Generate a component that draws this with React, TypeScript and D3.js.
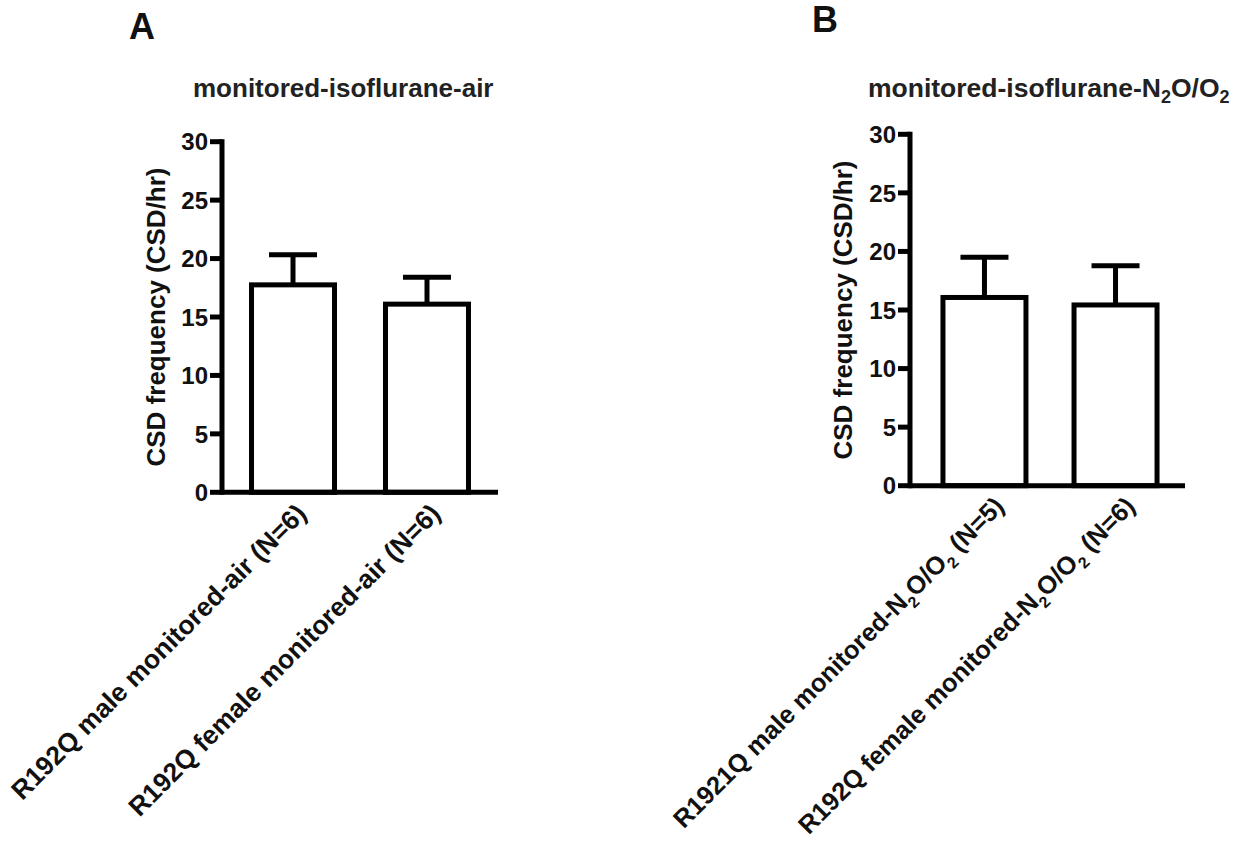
import React from "react";
import * as d3 from "d3";

// ---- data ----
const yTicks = [0, 5, 10, 15, 20, 25, 30];
const yDomain = [0, 30];

const titleA = "monitored-isoflurane-air";
const categoriesA = ["R192Q male monitored-air (N=6)", "R192Q female monitored-air (N=6)"];
const meansA = [17.75, 16.1];
const semA = [2.58, 2.3];

const titleB = "monitored-isoflurane-N_2O/O_2";
const categoriesB = [
  "R1921Q male monitored-N_2O/O_2 (N=5)",
  "R192Q female monitored-N_2O/O_2 (N=6)",
];
const meansB = [16.07, 15.43];
const semB = [3.44, 3.35];

const yLabel = "CSD frequency (CSD/hr)";

// ---- layout ----
const W = 1244;
const H = 849;
const FONT = "'Liberation Sans', Arial, Helvetica, sans-serif";

const panels = [
  {
    letter: "A", letterX: 129, letterY: 39,
    title: titleA, titleX: 193, titleY: 97, titleSize: 26,
    cats: categoriesA, means: meansA, sems: semA,
    axisX: 222, axisEnd: 498, xRange: [222, 498], yTop: 141.7, yBottom: 492.3,
    yLabelX: 165, catSize: 26.5, catDx: 15, catDy: 23,
  },
  {
    letter: "B", letterX: 812, letterY: 32,
    title: titleB, titleX: 868, titleY: 97, titleSize: 26.5,
    cats: categoriesB, means: meansB, sems: semB,
    axisX: 910, axisEnd: 1185, xRange: [915, 1185], yTop: 134.3, yBottom: 485.7,
    yLabelX: 852, catSize: 25.5, catDx: 21, catDy: 22,
  },
];

function parts(s: string) {
  const out: { t: string; sub: boolean }[] = [];
  const re = /_(\d)/g;
  let last = 0;
  let m: RegExpExecArray | null;
  while ((m = re.exec(s)) !== null) {
    if (m.index > last) out.push({ t: s.slice(last, m.index), sub: false });
    out.push({ t: m[1], sub: true });
    last = m.index + m[0].length;
  }
  if (last < s.length) out.push({ t: s.slice(last), sub: false });
  return out;
}

function RichText({ s, subSize, subShift }: { s: string; subSize: number; subShift: number }) {
  const ps = parts(s);
  let shifted = false;
  return (
    <>
      {ps.map((p, i) => {
        let dy = 0;
        if (p.sub && !shifted) { dy = subShift; shifted = true; }
        else if (!p.sub && shifted) { dy = -subShift; shifted = false; }
        return (
          <tspan key={i} dy={dy} fontSize={p.sub ? subSize : undefined}>
            {p.t}
          </tspan>
        );
      })}
    </>
  );
}

function Panel({ p }: { p: (typeof panels)[number] }) {
  const y = d3.scaleLinear().domain(yDomain).range([p.yBottom, p.yTop]);
  const x = d3.scalePoint<string>().domain(p.cats).range(p.xRange as [number, number]).padding(0.53);
  const barW = 83;
  const capW = 48;
  const sw = 5;
  const y0 = y(0);
  return (
    <g>
      <text x={p.letterX} y={p.letterY} fontSize={36} fontWeight="bold" fill="#111">{p.letter}</text>
      <text x={p.titleX} y={p.titleY} fontSize={p.titleSize} fontWeight="bold" fill="#222">
        <RichText s={p.title} subSize={18} subShift={6} />
      </text>
      {p.cats.map((c, i) => {
        const cx = x(c)!;
        const top = y(p.means[i]);
        const errTop = y(p.means[i] + p.sems[i]);
        return (
          <g key={c}>
            <line x1={cx} x2={cx} y1={top} y2={errTop} stroke="#000" strokeWidth={sw} />
            <line x1={cx - capW / 2} x2={cx + capW / 2} y1={errTop} y2={errTop} stroke="#000" strokeWidth={sw} />
            <rect x={cx - barW / 2} y={top} width={barW} height={y0 - top} fill="#fff" stroke="#000" strokeWidth={sw} />
          </g>
        );
      })}
      <line x1={p.axisX} x2={p.axisX} y1={y(30) - sw / 2} y2={y0 + sw / 2} stroke="#000" strokeWidth={sw} />
      {yTicks.map((t) => (
        <g key={t}>
          <line x1={p.axisX - 12} x2={p.axisX} y1={y(t)} y2={y(t)} stroke="#000" strokeWidth={sw} />
          <text x={p.axisX - 14} y={y(t)} dy="0.36em" textAnchor="end" fontSize={24} fontWeight="bold" fill="#111">
            {t}
          </text>
        </g>
      ))}
      <line x1={p.axisX} x2={p.axisEnd} y1={y0} y2={y0} stroke="#000" strokeWidth={sw} />
      {p.cats.map((c) => {
        const cx = x(c)!;
        return (
          <text
            key={c}
            transform={`translate(${cx + p.catDx},${y0 + p.catDy}) rotate(-45)`}
            textAnchor="end"
            fontSize={p.catSize}
            fontWeight="bold"
            fill="#111"
          >
            <RichText s={c} subSize={16} subShift={7} />
          </text>
        );
      })}
      <text
        transform={`translate(${p.yLabelX},${(p.yTop + p.yBottom) / 2}) rotate(-90)`}
        textAnchor="middle"
        fontSize={26}
        fontWeight="bold"
        fill="#111"
      >
        {yLabel}
      </text>
    </g>
  );
}

export default function App() {
  return (
    <svg
      width={W}
      height={H}
      viewBox={`0 0 ${W} ${H}`}
      style={{ position: "absolute", left: 0, top: 0, background: "#fff", fontFamily: FONT }}
    >
      <rect x={0} y={0} width={W} height={H} fill="#fff" />
      {panels.map((p) => (
        <Panel key={p.letter} p={p} />
      ))}
    </svg>
  );
}
